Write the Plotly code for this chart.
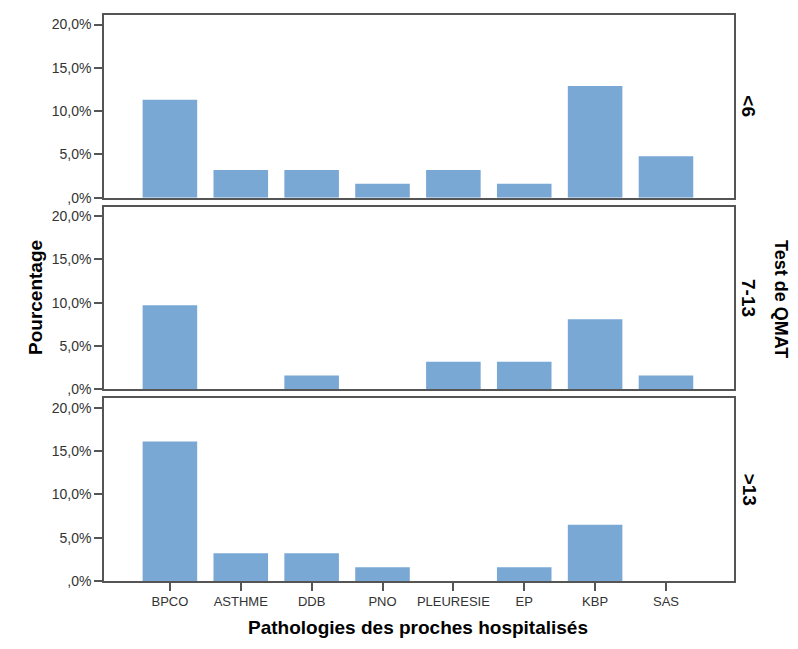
import plotly.graph_objects as go
from plotly.subplots import make_subplots

categories = ["BPCO", "ASTHME", "DDB", "PNO", "PLEURESIE", "EP", "KBP", "SAS"]
groups = ["<6", "7-13", ">13"]
values_lt6 = [11.3, 3.2, 3.2, 1.6, 3.2, 1.6, 12.9, 4.8]
values_7_13 = [9.7, 0.0, 1.6, 0.0, 3.2, 3.2, 8.1, 1.6]
values_gt13 = [16.1, 3.2, 3.2, 1.6, 0.0, 1.6, 6.5, 0.0]
series = [values_lt6, values_7_13, values_gt13]
y_tick_vals = [0, 5, 10, 15, 20]
y_tick_text = [",0%", "5,0%", "10,0%", "15,0%", "20,0%"]

# page has an 8px body margin; keep the figure inside the viewport to avoid scrollbars
OFF = 8
W, H = 798 - 2 * OFF, 649 - 2 * OFF
ml, mt = 104 - OFF, 13 - OFF
mr = W - (734 - OFF)
mb = H - (581 - OFF)
PW, PH = W - ml - mr, H - mt - mb


def px_x(page_x):
    return (page_x - OFF - ml) / PW


def px_y(page_y):
    return (H - mb - (page_y - OFF)) / PH


fig = make_subplots(rows=3, cols=1, shared_xaxes=True, vertical_spacing=9 / PH)

bar_color = "#79A8D4"
frame = "#555555"
font_fam = "Arial, Liberation Sans, sans-serif"
for i, vals in enumerate(series):
    fig.add_trace(go.Bar(x=categories, y=vals, marker=dict(color=bar_color, line=dict(width=0)),
                         width=0.77, showlegend=False, hoverinfo="x+y"), row=i + 1, col=1)
    fig.update_yaxes(range=[0, 21.1], tickvals=y_tick_vals, ticktext=y_tick_text,
                     ticks="outside", ticklen=8, tickwidth=1.5, tickcolor=frame, showline=True, linecolor=frame,
                     linewidth=1.5, mirror=True, showgrid=False, zeroline=False,
                     tickfont=dict(family=font_fam, size=14, color="#333333"),
                     row=i + 1, col=1)
    fig.update_xaxes(range=[-0.93, 7.96], showline=True, linecolor=frame, linewidth=1.5, mirror=True,
                     showgrid=False, ticks="outside" if i == 2 else "", ticklen=8, tickwidth=1.5, tickcolor=frame,
                     showticklabels=(i == 2),
                     tickfont=dict(family=font_fam, size=13, color="#333333"),
                     row=i + 1, col=1)

annotations = []
for i, g in enumerate(groups):
    dom = fig.layout["yaxis" + ("" if i == 0 else str(i + 1))].domain
    annotations.append(dict(text="<b>" + g + "</b>", x=px_x(749), y=(dom[0] + dom[1]) / 2, xref="paper", yref="paper",
                            textangle=90, showarrow=False, xanchor="center", yanchor="middle",
                            font=dict(family=font_fam, size=19, color="#000000")))
annotations.append(dict(text="<b>Test de QMAT</b>", x=px_x(781), y=px_y(298), xref="paper", yref="paper",
                        textangle=90, showarrow=False, xanchor="center", yanchor="middle",
                        font=dict(family=font_fam, size=18, color="#000000")))
annotations.append(dict(text="<b>Pourcentage</b>", x=px_x(35), y=px_y(297), xref="paper", yref="paper",
                        textangle=-90, showarrow=False, xanchor="center", yanchor="middle",
                        font=dict(family=font_fam, size=19, color="#000000")))
annotations.append(dict(text="<b>Pathologies des proches hospitalisés</b>", x=px_x(418),
                        y=px_y(628), xref="paper", yref="paper",
                        showarrow=False, xanchor="center", yanchor="middle",
                        font=dict(family=font_fam, size=19, color="#000000")))

fig.update_layout(width=W, height=H, margin=dict(l=ml, r=mr, t=mt, b=mb),
                  paper_bgcolor="white", plot_bgcolor="white", bargap=0.23,
                  annotations=annotations)
fig.write_html("out.html")
